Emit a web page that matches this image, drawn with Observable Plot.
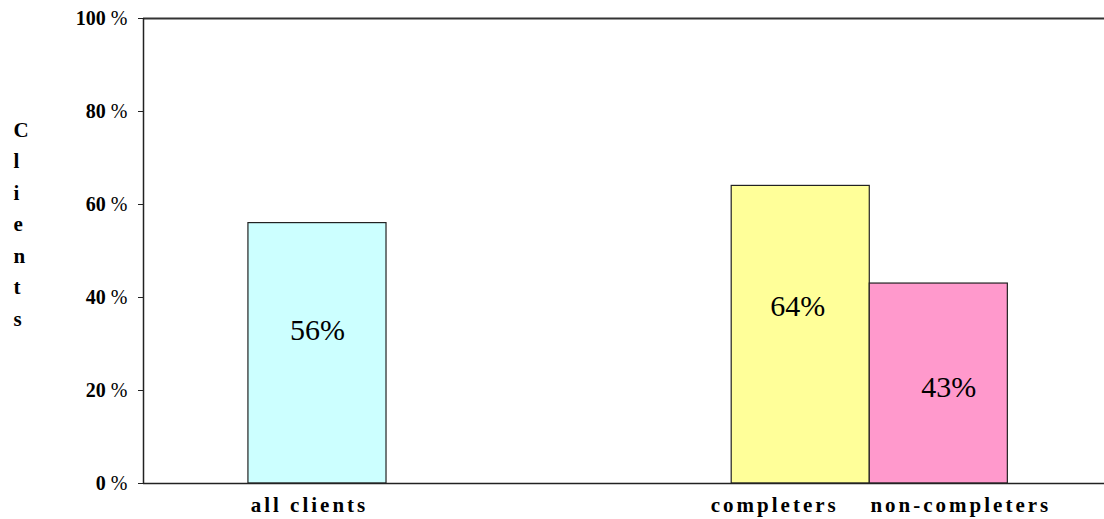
<!DOCTYPE html>
<html>
<head>
<meta charset="utf-8">
<script src="https://cdn.jsdelivr.net/npm/d3@7"></script>
<script src="https://cdn.jsdelivr.net/npm/@observablehq/plot@0.6"></script>
<style>
  html, body { margin: 0; padding: 0; background: #fff; }
  #chart svg { display: block; }
  #chart svg text { font-family: "Liberation Serif", "Times New Roman", serif !important; }
</style>
</head>
<body>
<div id="chart"></div>
<script>
const categories = ["all clients", "completers", "non-completers"];
const values = [56, 64, 43];
const groups = [0, 1, 1];
const colors = ["#CCFFFF", "#FFFF99", "#FF99CC"];
const labels = ["56%", "64%", "43%"];
const yTicks = [0, 20, 40, 60, 80, 100];
const yTitle = "Clients";

// layout (in bar-width units)
const lead = 0.76, groupGap = 2.5, xMax = 6.96;
// label nudges (pixels), layout only
const catDx = {"all clients": -8, "completers": -26, "non-completers": 22};
const valDx = {"all clients": 0, "completers": -3, "non-completers": 10};
const valDy = {"all clients": 3, "completers": 1, "non-completers": 24};

const rows = categories.map((c, i) => {
  const x1 = lead + i + groups[i] * groupGap;
  return {category: c, value: values[i], color: colors[i], label: labels[i], x1, x2: x1 + 1, xm: x1 + 0.5};
});

const chart = Plot.plot({
  width: 1104,
  height: 519,
  marginLeft: 143,
  marginRight: 0,
  marginTop: 18,
  marginBottom: 36,
  style: {background: "#fff", color: "#000"},
  x: {domain: [0, xMax], axis: null},
  y: {domain: [0, 100]},
  marks: [
    Plot.rectY(rows, {x1: "x1", x2: "x2", y: "value", fill: "color", stroke: "#222", strokeWidth: 1.2}),
    Plot.ruleY([100], {stroke: "#333", strokeWidth: 2}),
    Plot.ruleY([0], {stroke: "#222", strokeWidth: 1.5}),
    Plot.ruleX([0], {stroke: "#222", strokeWidth: 1.5}),
    Plot.axisY({
      ticks: yTicks,
      tickFormat: d => d + " %",
      tickSize: 5,
      tickPadding: 11,
      fontSize: 20,
      fontWeight: "bold",
      label: null,
      stroke: "#222"
    }),
    Plot.text(rows, {
      x: "xm", y: d => d.value * 0.6, text: "label",
      fontSize: 30, fill: "#000",
      className: "vlabel"
    }),
    Plot.text(rows, {
      x: "xm", y: 0, text: "category", dy: 22,
      fontSize: 21, fontWeight: "bold", fill: "#000",
      className: "clabel"
    }),
    Plot.text([yTitle.split("").join("\n")], {
      frameAnchor: "left", text: d => d, dx: -123, dy: -30,
      lineHeight: 1.5, fontSize: 21, fontWeight: "bold", fill: "#000",
      className: "ytitle"
    })
  ]
});

// per-label nudges
chart.querySelectorAll(".vlabel text").forEach((t, i) => {
  const c = rows[i].category;
  t.setAttribute("transform", (t.getAttribute("transform") || "") + ` translate(${valDx[c]},${valDy[c]})`);
});
chart.querySelectorAll(".clabel text").forEach((t, i) => {
  const c = rows[i].category;
  t.setAttribute("letter-spacing", "3");
  t.setAttribute("transform", (t.getAttribute("transform") || "") + ` translate(${catDx[c]},0)`);
});
chart.querySelectorAll(".ytitle text").forEach(t => {
  t.setAttribute("transform", (t.getAttribute("transform") || "") + " translate(-7,0)");
});
// tick labels: bold number, lighter percent sign
chart.querySelectorAll("g[aria-label='y-axis tick label'] text").forEach(t => {
  const m = /^(\d+) %$/.exec(t.textContent);
  if (!m) return;
  t.textContent = "";
  const a = document.createElementNS("http://www.w3.org/2000/svg", "tspan");
  a.textContent = m[1] + " ";
  const b = document.createElementNS("http://www.w3.org/2000/svg", "tspan");
  b.textContent = "%";
  b.setAttribute("font-weight", "normal");
  t.appendChild(a); t.appendChild(b);
});
document.getElementById("chart").appendChild(chart);
</script>
</body>
</html>
